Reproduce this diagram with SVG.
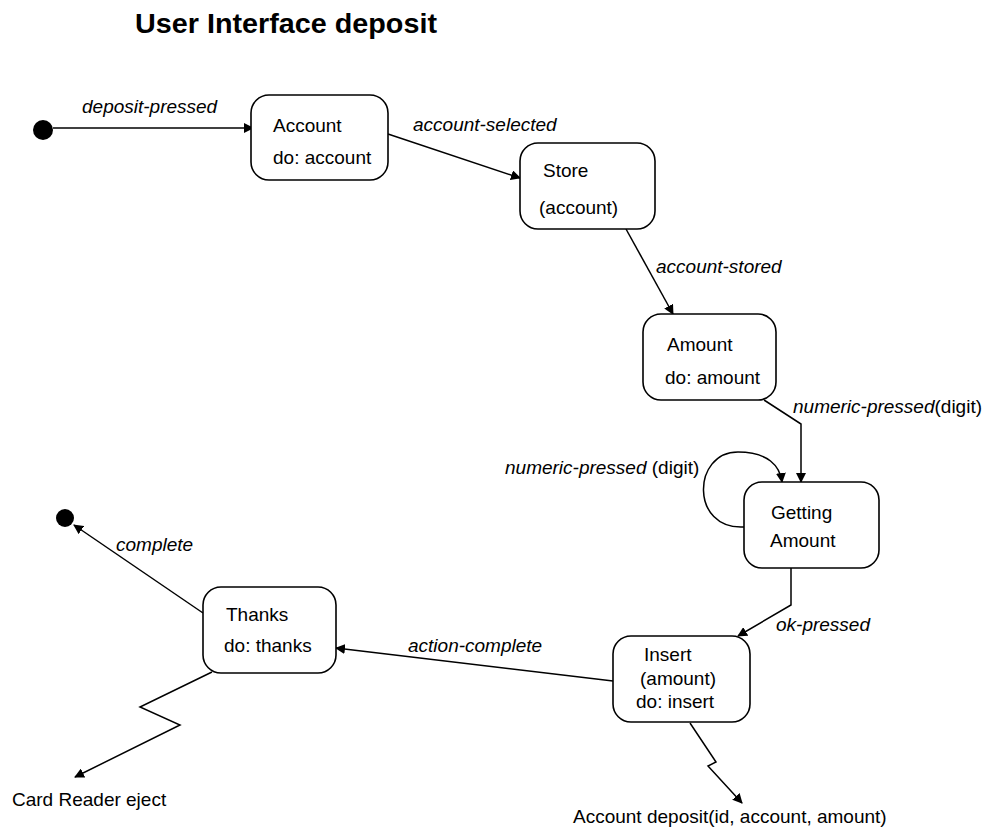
<svg xmlns="http://www.w3.org/2000/svg" width="984" height="832" viewBox="0 0 984 832">
<style>
text{font-family:"Liberation Sans",Arial,sans-serif;font-size:19px;fill:#000}
.t{font-size:28px;font-weight:bold}
.i{font-style:italic}
.box{fill:#fff;stroke:#000;stroke-width:1.6}
.ln{fill:none;stroke:#000;stroke-width:1.5}
</style>
<defs>
<marker id="a" viewBox="0 0 10 10" refX="9" refY="5" markerWidth="10" markerHeight="10" markerUnits="userSpaceOnUse" orient="auto"><path d="M0,0 L10,5 L0,10 Z" fill="#000"/></marker>
</defs>
<rect width="984" height="832" fill="#fff"/>
<text class="t" x="135" y="33" textLength="302" lengthAdjust="spacingAndGlyphs">User Interface deposit</text>
<g id="connectors">
<path class="ln" d="M53,128 L253,128" marker-end="url(#a)"/>
<text class="i" x="82" y="113">deposit-pressed</text>
<path class="ln" d="M388,134 L520,178" marker-end="url(#a)"/>
<text class="i" x="413" y="131">account-selected</text>
<path class="ln" d="M626,229 L673,314" marker-end="url(#a)"/>
<text class="i" x="656" y="273">account-stored</text>
<path class="ln" d="M764,400 L801,424 L801,482" marker-end="url(#a)"/>
<text x="793" y="413"><tspan class="i">numeric-pressed</tspan>(digit)</text>
<path class="ln" d="M744,527 C690,530 692,452 738,452 C768,452 780,466 782,482" marker-end="url(#a)"/>
<text x="505" y="474"><tspan class="i">numeric-pressed</tspan> (digit)</text>
<path class="ln" d="M791,568 L791,605 L738,636" marker-end="url(#a)"/>
<text class="i" x="776" y="631">ok-pressed</text>
<path class="ln" d="M613,681 L336,648" marker-end="url(#a)"/>
<text class="i" x="408" y="652">action-complete</text>
<path class="ln" d="M203,613 L74,525" marker-end="url(#a)"/>
<text class="i" x="116" y="551">complete</text>
<path class="ln" d="M212,672 L140,707 L180,725 L75,777" marker-end="url(#a)"/>
<path class="ln" d="M690,723 L716,762 L708,766 L742,803" marker-end="url(#a)"/>
</g>
<g id="initial"><circle cx="43" cy="130" r="10" fill="#000"/></g>
<g id="final"><circle cx="65" cy="518" r="9" fill="#000"/></g>
<g id="account"><rect class="box" x="251" y="95" width="137" height="85" rx="18"/><text x="273" y="132">Account</text><text x="273" y="164">do: account</text></g>
<g id="store"><rect class="box" x="520" y="143" width="135" height="86" rx="18"/><text x="543" y="177">Store</text><text x="539" y="214">(account)</text></g>
<g id="amount"><rect class="box" x="643" y="314" width="133" height="86" rx="18"/><text x="667" y="351">Amount</text><text x="665" y="384">do: amount</text></g>
<g id="getting"><rect class="box" x="744" y="482" width="135" height="86" rx="18"/><text x="771" y="519">Getting</text><text x="770" y="547">Amount</text></g>
<g id="insert"><rect class="box" x="613" y="636" width="137" height="86" rx="18"/><text x="644" y="661">Insert</text><text x="640" y="685">(amount)</text><text x="636" y="708">do: insert</text></g>
<g id="thanks"><rect class="box" x="203" y="587" width="133" height="86" rx="18"/><text x="226" y="621">Thanks</text><text x="224" y="652">do: thanks</text></g>
<g id="ext"><text x="12" y="806">Card Reader eject</text><text x="573" y="823">Account deposit(id, account, amount)</text></g>
</svg>
